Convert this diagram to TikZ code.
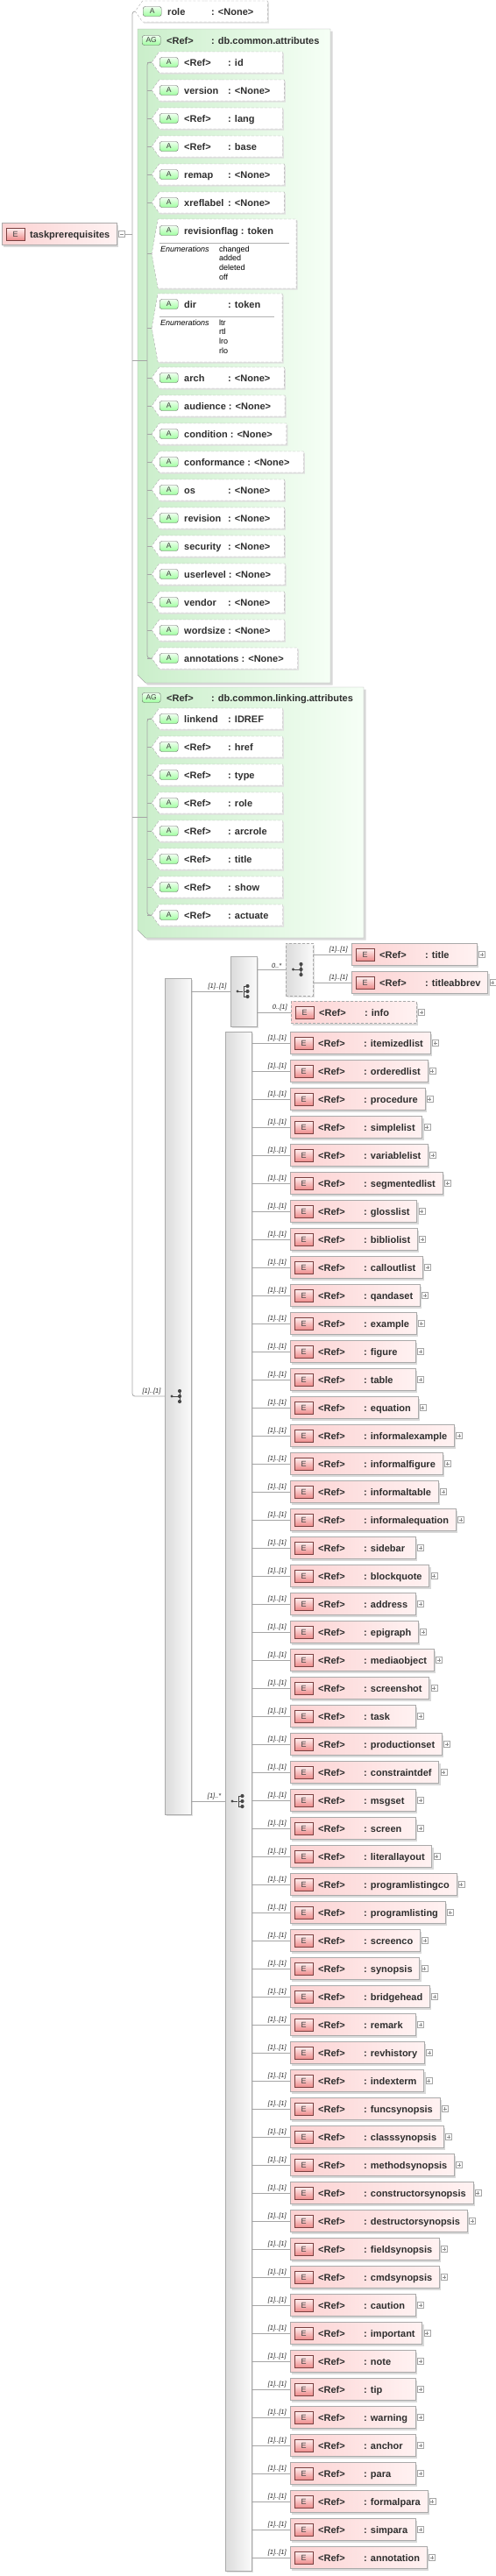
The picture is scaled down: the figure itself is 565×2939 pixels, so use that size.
\documentclass[tikz,border=0pt]{standalone}
\usepackage{fontspec}
\setmainfont{Liberation Sans}
\usetikzlibrary{shapes.symbols,shadows}

\definecolor{agleft}{RGB}{202,238,202}
\definecolor{agright}{RGB}{246,255,246}
\definecolor{elleft}{RGB}{252,210,210}
\definecolor{elright}{RGB}{255,242,242}
\definecolor{ebot}{RGB}{238,140,140}
\definecolor{linegray}{RGB}{165,165,165}
\definecolor{boxgray}{RGB}{170,170,170}

\newlength\fieldw
\newlength\padw
% first column padded to a minimum width, then the type
\newcommand\twofield[3]{\settowidth\fieldw{#2\ }\ifdim\fieldw<#1\fieldw=#1\fi\makebox[\fieldw][l]{#2}#3}
\newcommand\padto[2]{\settowidth\padw{#2}\ifdim\padw<#1\padw=#1\fi\makebox[\padw][l]{#2}}
\newcommand\attrtext[2]{\rule[-12pt]{0pt}{24pt}\hspace*{28.6pt}\raisebox{-4pt}{\padto{96pt}{\twofield{50pt}{#1}{#2}}}\hspace*{16pt}}
\newcommand\elemtext[1]{\rule[-12.5pt]{0pt}{25pt}\hspace*{32pt}\raisebox{-4pt}{\padto{103pt}{\twofield{52pt}{<Ref>}{: #1}}}\hspace*{8pt}}

\begin{document}
\begin{tikzpicture}[x=1pt, y=-1pt,
  conn/.style={draw=linegray, line width=0.8pt},
  opt/.style={dashed, dash pattern=on 3pt off 2pt},
  attr/.style={shape=signal, signal to=west, signal pointer angle=110, draw=boxgray, opt,
    fill=white, inner sep=0pt, anchor=west, text=black!82,
    font=\bfseries\fontsize{11}{13}\selectfont,
    drop shadow={shadow xshift=1.5pt, shadow yshift=-1.5pt, fill=black!12, opacity=1}},
  elem/.style={rectangle, draw=boxgray, left color=elleft, right color=elright,
    inner sep=0pt, anchor=west, text=black!82, font=\bfseries\fontsize{11}{13}\selectfont,
    drop shadow={shadow xshift=2pt, shadow yshift=-2pt, fill=black!15, opacity=1}},
  group/.style={rectangle, draw=boxgray, left color=black!14, right color=black!2,
    minimum width=30pt, inner sep=0pt,
    drop shadow={shadow xshift=2pt, shadow yshift=-2pt, fill=black!12, opacity=1}},
  agbox/.style={draw=boxgray, left color=agleft, right color=agright,
    drop shadow={shadow xshift=2.5pt, shadow yshift=-2.5pt, fill=black!15, opacity=1}},
  ebadge/.style={rectangle, draw=red!30!black!75, top color=elright, bottom color=ebot,
    minimum width=21pt, minimum height=14pt, inner sep=0pt, anchor=west,
    text=black!75, font=\fontsize{9}{9}\selectfont},
  abadge/.style={rectangle, rounded corners=2.5pt, draw=black!60, top color=green!6,
    bottom color=green!38, minimum width=21pt, minimum height=11pt, inner sep=0pt,
    anchor=west, text=black!75, font=\fontsize{8.5}{8.5}\selectfont},
  lbl/.style={anchor=west, inner sep=0pt, text=black!82, text height=8pt, text depth=0pt,
    font=\bfseries\fontsize{11}{13}\selectfont},
  enumlbl/.style={anchor=west, inner sep=0pt, text height=6.5pt, text depth=0pt,
    font=\itshape\fontsize{9}{10}\selectfont},
  enumval/.style={anchor=west, inner sep=0pt, text height=6.5pt, text depth=0pt,
    font=\fontsize{9}{10}\selectfont},
  mult/.style={anchor=south east, xshift=-3pt, yshift=0.5pt, inner sep=1pt, text=black!85,
    font=\itshape\fontsize{7.5}{8}\selectfont},
  seqicon/.pic={
    \fill[black!72] (-7,0) circle (1.7pt);
    \draw[black!72, line width=0.9pt] (-7,0) -- (2,0) (2,-6) -- (2,6);
    \foreach \k in {-6,0,6} \fill[black!72] (2,\k) circle (2.1pt);
  },
  choiceicon/.pic={
    \fill[black!72] (-7,0) circle (1.7pt);
    \draw[black!72, line width=0.9pt] (-7,0) -- (-1,0) (0,-6) -- (0,6)
      (0,-6) -- (4,-6) (0,0) -- (4,0) (0,6) -- (4,6);
    \foreach \k in {-6,0,6} \fill[black!72] (4.5,\k) circle (2.1pt);
  },
  plusbox/.pic={
    \draw[black!35, fill=white] (-3.5,-3.5) rectangle (3.5,3.5);
    \draw[black!45] (-2,0) -- (2,0) (0,-2) -- (0,2);
  },
  minusbox/.pic={
    \draw[black!35, fill=white] (-3.5,-3.5) rectangle (3.5,3.5);
    \draw[black!45] (-2,0) -- (2,0);
  }]
\useasboundingbox (0,0) rectangle (565,2939);

% attribute group frames
\path[agbox] (157,33) -- (377,33) -- (377,779) -- (166,779) -- (157,770) -- cycle;
\path[agbox] (157,784) -- (415,784) -- (415,1070) -- (166,1070) -- (157,1061) -- cycle;

% root
\node[elem] (root) at (2,267) {\rule[-12.5pt]{0pt}{25pt}\hspace*{32pt}\raisebox{-4pt}{taskprerequisites}\hspace*{8pt}};
\node[ebadge] (root-b) at ([xshift=5pt]root.west) {E};
\pic at ([xshift=5.5pt]root.east) {minusbox};
\coordinate (mj) at (151,267);

% role
\node[attr] (a-role) at (154,13) {\attrtext{role}{: <None>}};
\node[abadge] (b-role) at ([xshift=9pt]a-role.west) {A};

% db.common.attributes
\node[abadge] (agc-b) at (162,46) {AG};
\node[lbl] (agc) at (190,46) {\twofield{51pt}{<Ref>}{: db.common.attributes}};
\coordinate (acj) at (168,411);
\foreach \nm/\fa/\fb/\yy in {id/<Ref>/{: id}/71, version/version/{: <None>}/103,
    lang/<Ref>/{: lang}/135, base/<Ref>/{: base}/167, remap/remap/{: <None>}/199,
    xreflabel/xreflabel/{: <None>}/231, arch/arch/{: <None>}/431,
    audience/audience/{: <None>}/463, condition/condition/{: <None>}/495,
    conformance/conformance/{: <None>}/527, os/os/{: <None>}/559,
    revision/revision/{: <None>}/591, security/security/{: <None>}/623,
    userlevel/userlevel/{: <None>}/655, vendor/vendor/{: <None>}/687,
    wordsize/wordsize/{: <None>}/719, annotations/annotations/{: <None>}/751}{
  \node[attr] (a-\nm) at (173,\yy) {\attrtext{\fa}{\fb}};
  \node[abadge] (b-\nm) at ([xshift=9pt]a-\nm.west) {A};
  \draw[conn] (acj |- a-\nm.west) -- (a-\nm.west);
}

% enumerated attributes
\node[attr, signal pointer angle=160] (a-revisionflag) at (173,289.5) {\rule[-39.5pt]{0pt}{79pt}\hspace*{158pt}};
\node[abadge] (b-revisionflag) at (182,263) {A};
\node[lbl] (t-revisionflag) at (210,263) {\twofield{50pt}{revisionflag}{: token}};
\draw[black!30] (182,277) -- (330,277);
\node[enumlbl] (n-revisionflag) at (183,284) {Enumerations};
\foreach \v [count=\k from 0] in {changed,added,deleted,off}
  \node[enumval] (v-revisionflag-\k) at (250,284+10.7*\k) {\v};
\draw[conn] (acj |- a-revisionflag.west) -- (a-revisionflag.west);

\node[attr, signal pointer angle=160] (a-dir) at (173,374) {\rule[-39pt]{0pt}{78pt}\hspace*{142pt}};
\node[abadge] (b-dir) at (182,347) {A};
\node[lbl] (t-dir) at (210,347) {\twofield{50pt}{dir}{: token}};
\draw[black!30] (182,361) -- (313,361);
\node[enumlbl] (n-dir) at (183,368) {Enumerations};
\foreach \v [count=\k from 0] in {ltr,rtl,lro,rlo}
  \node[enumval] (v-dir-\k) at (250,368+10.7*\k) {\v};
\draw[conn] (acj |- a-dir.west) -- (a-dir.west);

\draw[conn, rounded corners=3pt] (a-id.west) -- (acj |- a-id.west) -- (acj |- a-annotations.west) -- (a-annotations.west);

% db.common.linking.attributes
\node[abadge] (agl-b) at (162,796) {AG};
\node[lbl] (agl) at (190,796) {\twofield{51pt}{<Ref>}{: db.common.linking.attributes}};
\coordinate (lcj) at (168,932);
\foreach \nm/\fa/\fb/\yy in {linkend/linkend/{: IDREF}/820, href/<Ref>/{: href}/852,
    type/<Ref>/{: type}/884, role/<Ref>/{: role}/916, arcrole/<Ref>/{: arcrole}/948,
    title/<Ref>/{: title}/980, show/<Ref>/{: show}/1012, actuate/<Ref>/{: actuate}/1044}{
  \node[attr] (la-\nm) at (173,\yy) {\attrtext{\fa}{\fb}};
  \node[abadge] (lb-\nm) at ([xshift=9pt]la-\nm.west) {A};
  \draw[conn] (lcj |- la-\nm.west) -- (la-\nm.west);
}
\draw[conn, rounded corners=3pt] (la-linkend.west) -- (lcj |- la-linkend.west) -- (lcj |- la-actuate.west) -- (la-actuate.west);

% model groups
\node[group, minimum height=954pt] (sq0) at (203,1593) {};
\pic at (sq0) {seqicon};
\node[group, minimum height=80pt] (ch1) at (278,1131) {};
\pic at (ch1) {choiceicon};
\node[group, opt, minimum height=60pt, minimum width=31pt] (sq1) at (341.5,1106) {};
\pic at (sq1) {seqicon};
\node[group, minimum height=1756pt] (ch2) at (272,2055) {};
\pic at (ch2) {choiceicon};

% main tree lines
\draw[conn, rounded corners=3pt] (a-role.west) -- (mj |- a-role.west) -- (mj |- sq0) -- (sq0.west) node[mult] {[1]..[1]};
\draw[conn] ([xshift=9pt]root.east) -- (mj);
\draw[conn] (mj |- acj) -- (acj);
\draw[conn] (mj |- lcj) -- (lcj);
\draw[conn] (sq0.east |- ch1) -- (ch1.west) node[mult] {[1]..[1]};
\draw[conn] (sq0.east |- ch2) -- (ch2.west) node[mult] {[1]..*};
\draw[conn] (ch1.east |- sq1) -- (sq1.west) node[mult] {0..*};

% title block
\node[elem] (title) at (401,1089) {\elemtext{title}};
\node[elem] (titleabbrev) at (401,1121) {\elemtext{titleabbrev}};
\node[elem, opt] (info) at (332,1155) {\elemtext{info}};
\foreach \nm in {title,titleabbrev,info}{
  \node[ebadge] (eb-\nm) at ([xshift=5pt]\nm.west) {E};
  \pic at ([xshift=5.5pt]\nm.east) {plusbox};
}
\draw[conn] (sq1.east |- title) -- (title.west) node[mult] {[1]..[1]};
\draw[conn] (sq1.east |- titleabbrev) -- (titleabbrev.west) node[mult] {[1]..[1]};
\draw[conn] (ch1.east |- info) -- (info.west) node[mult] {0..[1]};

% block elements
\foreach \nm [count=\i from 0] in {itemizedlist,orderedlist,procedure,simplelist,
    variablelist,segmentedlist,glosslist,bibliolist,calloutlist,qandaset,example,
    figure,table,equation,informalexample,informalfigure,informaltable,
    informalequation,sidebar,blockquote,address,epigraph,mediaobject,screenshot,
    task,productionset,constraintdef,msgset,screen,literallayout,programlistingco,
    programlisting,screenco,synopsis,bridgehead,remark,revhistory,indexterm,
    funcsynopsis,classsynopsis,methodsynopsis,constructorsynopsis,
    destructorsynopsis,fieldsynopsis,cmdsynopsis,caution,important,note,tip,
    warning,anchor,para,formalpara,simpara,annotation}{
  \node[elem] (e-\nm) at (331,1190+32*\i) {\elemtext{\nm}};
  \node[ebadge] (eb-\nm) at ([xshift=5pt]e-\nm.west) {E};
  \pic at ([xshift=5.5pt]e-\nm.east) {plusbox};
  \draw[conn] (ch2.east |- e-\nm.west) -- (e-\nm.west) node[mult] {[1]..[1]};
}
\end{tikzpicture}
\end{document}
